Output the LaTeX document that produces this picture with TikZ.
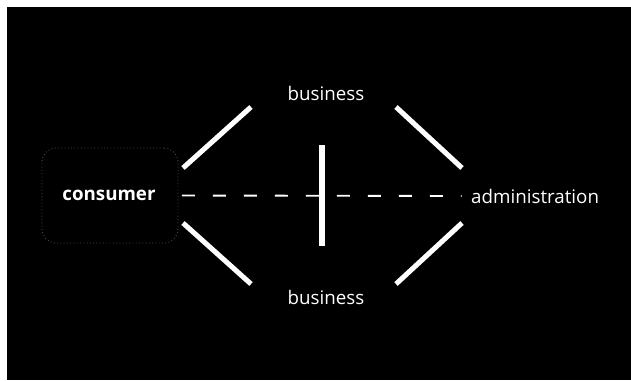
\documentclass[tikz,border=0pt]{standalone}
\usepackage{fontspec}
\setmainfont{Open Sans}
\usepackage{xcolor}
\usepackage{tikz}
\usetikzlibrary{
    positioning,
    calc
}

\begin{document}
\begin{tikzpicture}[
    x=0.03cm, y=-0.03cm,
    every node/.style={font=\fontsize{16}{19}\selectfont, text=white, inner sep=0pt},
    party/.style={rectangle, rounded corners=12pt, draw=white!28!black, dotted, line width=0.8pt, minimum width=4.08cm, minimum height=2.85cm},
    link/.style={white, line width=4.3pt},
    barline/.style={white, line width=5.2pt},
    dashline/.style={white, line width=1.6pt, dash pattern=on 0.39cm off 0.54cm}
]

% frame
\fill[white] (0,0) rectangle (631,380);
\fill[black] (7,7) rectangle (631,380);

\node[party] (consbox) at (110,195.5) {};
\node[font=\fontsize{16}{19}\selectfont\bfseries] (consumer) at (109,195) {consumer};
\node (btop) at (326,93) {business};
\node (bbot) at (326,297) {business};
\node[anchor=west] (admin) at (471,196) {administration};

% ends of the connectors
\coordinate (ulA) at (183,168);
\coordinate (ulB) at (251,107);
\coordinate (urA) at (396,107);
\coordinate (urB) at (462,168);
\coordinate (llA) at (183,223);
\coordinate (llB) at (251,284);
\coordinate (lrA) at (396,284);
\coordinate (lrB) at (462,223);
\coordinate (barTop) at (322,145);
\coordinate (barBot) at (322,246);

\draw[link] (ulA) -- (ulB);
\draw[link] (urA) -- (urB);
\draw[link] (llA) -- (llB);
\draw[link] (lrA) -- (lrB);
\draw[dashline, shorten <=3pt, shorten >=8pt] (consbox.east) -- (admin.west);
\draw[barline] (barTop) -- (barBot);

\end{tikzpicture}
\end{document}
